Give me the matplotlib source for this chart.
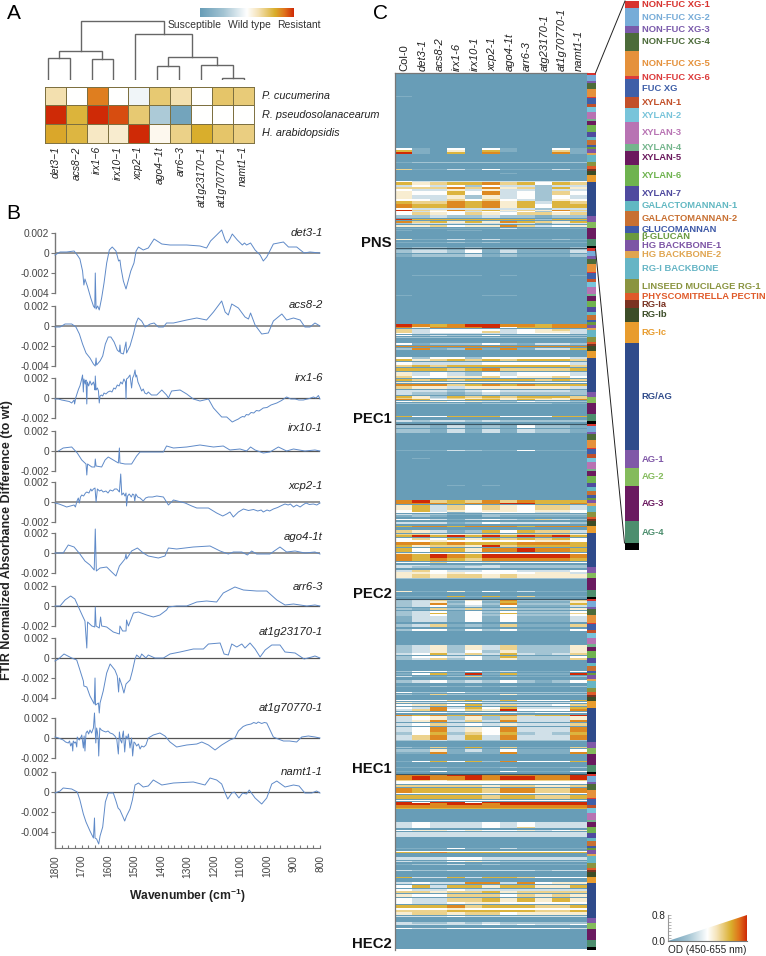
import numpy as np
import matplotlib
matplotlib.use("Agg")
import matplotlib.pyplot as plt
from matplotlib.colors import LinearSegmentedColormap
from matplotlib.patches import Polygon

plt.rcParams['font.family'] = ['Liberation Sans', 'DejaVu Sans']
plt.rcParams['mathtext.fontset'] = 'custom'
plt.rcParams['mathtext.bf'] = 'Liberation Sans:bold'
plt.rcParams['mathtext.rm'] = 'Liberation Sans'

# ---------------- Panel A data ----------------
A_GENOTYPES = ['det3−1', 'acs8−2', 'irx1−6', 'irx10−1', 'xcp2−1', 'ago4−1t', 'arr6−3', 'at1g23170−1', 'at1g70770−1', 'namt1−1']
A_PATHOGENS = ['P. cucumerina', 'R. pseudosolanacearum', 'H. arabidopsidis']
A_P_CUC = [0.26, 0.0, 0.76, 0.0, -0.08, 0.42, 0.26, 0.0, 0.44, 0.40]
A_R_PSE = [1.0, 0.56, 1.0, 0.90, 0.42, -0.45, -0.90, 0.0, 0.0, 0.0]
A_H_ARA = [0.62, 0.54, 0.20, 0.16, 1.0, 0.06, 0.36, 0.60, 0.44, 0.38]
# dendrogram merges: (left, right, height); ids >= 10 refer to earlier merges
A_MERGES = [(0, 1, 22), (2, 3, 21), (10, 11, 29), (5, 6, 14), (8, 9, 2), (7, 14, 15),
            (13, 15, 23), (4, 16, 46), (12, 17, 59)]

# ---------------- Panel B data (absorbance x 1e-3) ----------------
B_NAMES = ['det3-1', 'acs8-2', 'irx1-6', 'irx10-1', 'xcp2-1', 'ago4-1t', 'arr6-3', 'at1g23170-1', 'at1g70770-1', 'namt1-1']
det3_wn = [1800,1781,1756,1728,1716,1706,1696,1691,1687,1678,1665,1655,1650,1648,1645,1639,1633,1624,1615,1605,1595,1584,1570,1560,1555,1551,1542,1532,1526,1514,1502,1494,1485,1467,1448,1426,1397,1366,1303,1253,1228,1213,1190,1171,1158,1150,1140,1131,1112,1093,1085,1077,1062,1045,1026,1014,1001,976,938,919,888,860,838,800]
det3_ab = [-.2,.1,.1,.2,-.2,-.6,-1.8,-3.2,-2.6,-3.3,-4.5,-5.3,-5.5,-2.0,-5.6,-5.3,-5.7,-4.5,-3.0,-1.0,.3,.6,.2,-.8,-.7,-1.5,-2.8,-3.6,-3.0,-1.8,-1.0,.2,.6,.3,.5,1.4,.9,.8,.8,.7,.5,1.2,1.8,2.3,1.3,1.0,1.4,1.9,1.3,.8,1.0,.8,1.0,.3,-.2,-.8,-.4,.9,1.1,.6,.6,.0,.1,.0]
acs8_wn = [1800,1781,1762,1737,1721,1708,1696,1683,1668,1655,1648,1645,1643,1630,1620,1610,1599,1589,1577,1565,1557,1555,1552,1542,1532,1530,1517,1504,1494,1486,1473,1460,1441,1426,1410,1391,1379,1353,1303,1265,1228,1202,1171,1158,1146,1133,1108,1083,1070,1062,1045,1020,995,976,944,926,900,875,857,838,819,800]
acs8_ab = [-.1,-.1,.2,.2,-.1,-.8,-1.8,-2.7,-3.2,-3.8,-4.0,-3.2,-3.9,-3.5,-3.0,-1.8,-1.1,-1.1,-1.6,-2.4,-2.6,-1.9,-2.7,-2.8,-1.6,-2.7,-2.0,-.8,.3,.8,.5,-.1,.2,.3,-.1,-.1,.3,.3,.6,.8,.6,1.4,2.5,1.4,1.1,2.2,1.8,.9,.7,1.3,.1,-.8,-.7,.5,1.2,.6,.8,.6,-.1,-.1,.3,.0]
irx1_wn = [1800,1787,1775,1765,1756,1746,1737,1731,1728,1726,1722,1716,1711,1706,1701,1696,1693,1691,1686,1683,1680,1678,1673,1668,1662,1655,1651,1649,1648,1645,1640,1636,1633,1630,1625,1620,1615,1608,1600,1592,1585,1578,1572,1565,1558,1552,1546,1540,1534,1532,1530,1525,1517,1511,1507,1502,1498,1495,1492,1487,1479,1473,1467,1461,1454,1448,1436,1416,1397,1379,1372,1360,1328,1303,1278,1253,1221,1202,1171,1152,1131,1120,1108,1100,1092,1085,1078,1070,1060,1050,1040,1030,1014,1000,985,963,945,926,910,894,880,863,840,825,815,806,800]
irx1_ab = [-.1,-.1,-.2,-.25,-.3,-.35,-.5,-.3,-.2,-.6,.0,.5,.9,1.2,1.7,2.3,.6,1.9,1.4,1.8,-.6,1.6,1.2,1.7,1.3,1.6,1.2,.8,2.2,.8,1.0,.7,-.5,.2,.3,.2,.5,.4,.6,.7,.6,1.0,.9,1.3,1.2,1.6,1.4,1.9,1.6,-.1,1.9,2.0,2.3,1.0,2.0,2.3,2.8,2.1,2.3,1.6,1.1,.7,.9,.5,.4,.6,.3,.3,.8,.3,.0,.7,.8,.4,-.1,-.3,-.1,-1.0,-1.9,-1.9,-2.4,-2.25,-2.1,-1.95,-1.85,-1.9,-1.65,-1.7,-1.45,-1.5,-1.25,-1.3,-1.0,-.95,-.7,-.5,-.25,.1,-.1,-.1,-.2,-.2,-.05,.1,.0,.25,-.1]
irx10_wn = [1787,1769,1737,1716,1699,1683,1680,1677,1661,1650,1648,1645,1624,1611,1599,1580,1561,1557,1555,1536,1511,1492,1479,1454,1416,1391,1379,1353,1303,1253,1202,1165,1140,1102,1077,1062,1045,1014,989,957,926,900,857,819,800]
irx10_ab = [0,.3,.4,-.2,-.9,-1.3,-2.4,-1.3,-1.6,-1.6,-.8,-1.5,-1.6,-.9,-.6,-.9,-1.2,.3,-1.2,-1.3,-1.3,-.5,-.1,-.1,-.1,-.1,.5,.3,.4,.6,.4,.5,.1,.2,.0,.4,.1,-.2,-.1,.4,.0,.2,.0,.1,.0]
xcp2_wn = [1800,1785,1775,1765,1756,1742,1728,1723,1717,1712,1708,1704,1699,1692,1685,1680,1672,1665,1661,1655,1649,1645,1640,1632,1625,1618,1608,1600,1592,1582,1575,1567,1560,1557,1552,1548,1542,1536,1532,1530,1526,1520,1512,1507,1502,1499,1495,1488,1479,1467,1458,1448,1432,1416,1391,1372,1353,1309,1284,1265,1221,1190,1167,1152,1140,1127,1108,1089,1070,1051,1035,1022,1014,1000,990,976,960,945,932,920,912,900,888,875,865,853,840,825,812,800]
xcp2_ab = [-.1,-.2,-.3,-.4,-.5,-.4,-.3,-.5,.1,.4,-.1,.5,.7,.6,.9,1.0,.9,1.3,1.1,1.3,1.4,.0,1.3,1.1,1.2,1.0,1.1,.9,1.2,1.1,1.3,1.3,1.1,1.0,2.8,.7,.9,.6,.9,-.4,.6,.8,.5,.8,.7,.1,.8,.5,.4,.1,.4,.5,.5,.6,.5,-.3,.2,-.1,-.4,-.6,-.6,-1.1,-1.4,-1.2,-1.0,-1.5,-1.0,-.7,-.85,-.75,-.9,-.8,-1.0,-.8,-.9,-.7,-.55,-.35,-.2,-.3,-.2,-.5,-.3,-.5,-.3,-.1,-.25,-.2,-.3,-.1]
ago4_wn = [1800,1769,1750,1728,1706,1687,1668,1652,1648,1644,1630,1605,1586,1570,1557,1536,1532,1530,1511,1489,1467,1448,1429,1410,1385,1372,1341,1278,1215,1177,1146,1127,1095,1074,1058,1039,1007,989,951,926,894,857,819,800]
ago4_ab = [0,0,.8,.6,-.1,-.8,-1.2,-1.7,2.4,-1.8,-1.5,-1.4,-1.9,-2.3,-1.3,-.6,-.1,-.6,.2,.5,.0,-.3,-.4,-.5,-.3,.5,.4,.6,.7,.2,-.1,.1,.1,-.2,.2,-.1,-.1,-.1,.6,.1,.2,.0,.1,-.1]
arr6_wn = [1800,1781,1762,1741,1725,1708,1696,1687,1680,1677,1661,1650,1648,1645,1633,1628,1624,1605,1580,1557,1555,1545,1532,1530,1523,1504,1485,1454,1429,1404,1379,1372,1341,1303,1265,1228,1190,1165,1121,1089,1039,1001,963,932,900,850,819,800]
arr6_ab = [0,0,.6,1.0,.7,-.3,-1.0,-1.5,-4.2,-1.6,-2.0,-2.1,-.1,-2.0,-2.2,-1.1,-2.0,-2.1,-2.6,-2.8,-2.0,-2.5,-2.5,-1.4,-2.0,-.7,-.6,-.9,-1.1,-.9,-.4,-.1,.0,0,.4,.5,.4,1.3,1.9,1.6,1.5,1.5,.6,.1,.2,.0,.1,0]
at123_wn = [1800,1787,1766,1737,1718,1706,1693,1691,1680,1668,1652,1649,1647,1636,1633,1630,1618,1605,1592,1574,1565,1560,1557,1548,1540,1532,1517,1508,1498,1492,1479,1473,1457,1448,1423,1391,1366,1328,1278,1240,1221,1177,1162,1146,1133,1114,1095,1083,1064,1045,1026,1007,982,951,932,894,860,831,819,800]
at123_ab = [-.3,-.1,.4,0,-.2,-1.2,-2.3,-2.8,-2.9,-3.8,-4.6,-2.0,-4.7,-4.5,-5.5,-4.5,-3.3,-1.5,-.6,-1.2,-1.8,-3.4,-2.0,-2.7,-3.5,-2.6,-2.2,-1.3,-.1,.3,.0,.4,.0,.3,.0,.0,.4,.6,.9,.9,1.4,1.5,.4,.3,1.4,1.1,1.4,1.0,1.5,.9,.1,.8,1.3,1.3,.6,.5,-.1,.1,.2,0]
at170_wn = [1800,1793,1787,1778,1769,1760,1750,1745,1741,1736,1733,1731,1726,1722,1718,1716,1712,1708,1702,1699,1693,1690,1687,1683,1678,1673,1668,1662,1655,1651,1648,1646,1643,1640,1637,1635,1631,1625,1618,1608,1600,1592,1582,1574,1567,1561,1557,1553,1548,1545,1542,1537,1532,1527,1523,1517,1511,1507,1502,1498,1492,1485,1479,1473,1465,1457,1448,1429,1404,1385,1366,1341,1303,1265,1246,1221,1196,1171,1140,1121,1108,1090,1077,1060,1050,1040,1033,1020,1010,1001,985,976,958,938,915,888,869,844,819,800]
at170_ab = [.1,.05,0,-.1,-.2,-.4,-.5,-.3,-.8,-.5,-1.3,-.3,-.5,-.4,-.9,.1,-.1,-.2,.1,.3,-1.0,.2,-1.3,.5,.7,.4,.8,.5,1.0,2.5,.7,-.5,1.0,.6,-.2,-1.8,1.0,.8,.7,.6,.7,.5,.4,.2,-.1,-1.6,.6,-.2,-.5,.3,.7,-1.4,.2,-.1,.4,-1.0,.0,-1.8,-.4,-.5,-.8,-.6,-1.1,-.8,-.9,-.7,.0,.3,.5,.2,-.4,-.9,-.7,-.6,-.4,-.7,-1.2,-.7,-.2,.0,.7,1.15,1.3,1.4,1.55,1.45,1.6,1.45,1.55,1.5,.6,.1,-.1,-.3,-.3,-.4,.1,.2,.1,0]
namt_wn = [1800,1781,1769,1737,1716,1706,1693,1683,1668,1655,1651,1649,1643,1635,1630,1620,1610,1599,1580,1570,1562,1555,1545,1537,1530,1517,1508,1498,1485,1467,1448,1429,1397,1353,1278,1234,1215,1190,1171,1158,1148,1133,1123,1106,1092,1077,1067,1045,1020,1001,982,963,932,900,879,857,831,813,800]
namt_ab = [-.1,.1,.4,.3,.0,-.8,-2.2,-3.0,-3.9,-4.6,-2.6,-4.6,-4.7,-5.2,-4.4,-3.5,-1.0,-.1,-.1,-.9,-1.6,-1.8,-2.4,-2.9,-2.4,-1.7,-.8,.7,.9,.5,.6,1.2,.7,.9,1.0,.7,1.4,1.2,.8,-.1,-.7,-.1,.0,-.6,-.1,-.2,.2,-.6,-1.2,-.6,.8,1.1,.5,.7,.6,-.1,-.1,.1,-.1]
B_WN = [det3_wn, acs8_wn, irx1_wn, irx10_wn, xcp2_wn, ago4_wn, arr6_wn, at123_wn, at170_wn, namt_wn]
B_AB = [det3_ab, acs8_ab, irx1_ab, irx10_ab, xcp2_ab, ago4_ab, arr6_ab, at123_ab, at170_ab, namt_ab]
B_YMIN = [-4, -4, -2, -2, -2, -2, -2, -4, -2, -5.6]
B_TICKS = [[2,0,-2,-4],[2,0,-2,-4],[2,0,-2],[2,0,-2],[2,0,-2],[2,0,-2],[2,0,-2],[2,0,-2,-4],[2,0,-2],[2,0,-2,-4]]
B_TOP_PX = [233, 306, 378, 431, 482, 533, 586, 638, 718, 772]
B_LABEL_PX = [233, 305, 378, 428, 486, 537, 587, 632, 708, 772]
B_WAVENUMBERS = [1800, 1700, 1600, 1500, 1400, 1300, 1200, 1100, 1000, 900, 800]

# ---------------- Panel C data ----------------
C_COLUMNS = ['Col-0', 'det3-1', 'acs8-2', 'irx1-6', 'irx10-1', 'xcp2-1', 'ago4-1t', 'arr6-3', 'atg23170-1', 'at1g70770-1', 'namt1-1']
C_SECTIONS = ['PNS', 'PEC1', 'PEC2', 'HEC1', 'HEC2']
LEVEL_OD = [0.0, 0.09, 0.2, 0.3, 0.4, 0.46, 0.54, 0.62, 0.69, 0.8]
# each band: first row, number of rows, colour level for the 11 columns
PNS = [
 (24,1,"1 0 0 0 0 0 0 0 0 0 0"),
 (76,2,"4 1 0 4 0 4 1 0 0 4 1"),(78,2,"7 1 0 5 0 7 1 0 0 6 1"),(80,2,"9 1 0 7 0 8 0 0 0 8 1"),
 (90,1,"1 2 2 2 2 2 2 2 2 2 2"),(97,1,"6 1 1 3 1 4 1 1 1 3 1"),(101,1,"0 0 0 0 0 0 1 0 0 0 0"),
 (109,1,"4 3 3 3 3 3 3 3 3 3 4"),(110,3,"7 5 6 7 7 8 6 7 4 7 6"),(113,2,"3 4 3 4 2 4 3 3 2 3 3"),
 (115,2,"6 6 6 8 6 8 5 6 2 7 5"),(117,2,"4 3 3 5 3 5 3 3 2 3 3"),(119,4,"5 4 4 7 4 8 3 4 2 6 4"),
 (123,4,"5 3 3 5 2 5 3 4 2 4 3"),(127,2,"4 4 3 6 4 6 4 3 2 5 4"),(129,3,"7 6 6 8 7 8 5 7 3 7 6"),
 (132,4,"8 7 7 8 7 8 5 7 4 7 7"),(136,2,"4 3 3 3 3 3 3 3 2 3 3"),(138,1,"9 6 5 8 6 7 5 6 5 8 6"),
 (139,1,"4 3 4 4 3 4 3 4 2 4 3"),(140,3,"4 6 5 4 6 5 4 6 6 5 6"),(143,3,"2 2 3 2 2 3 2 2 1 2 2"),
 (147,1,"9 7 7 7 7 7 7 7 2 7 7"),(149,2,"8 6 7 5 7 5 8 7 6 5 7"),(151,1,"2 3 3 3 3 3 3 3 1 3 3"),
 (153,2,"5 5 6 4 5 5 8 6 3 4 5"),(156,1,"1 1 1 1 1 1 3 1 1 1 1"),(158,1,"1 0 0 1 1 0 0 0 0 0 0"),
 (167,1,"5 1 1 3 1 3 1 1 1 2 1"),(170,1,"1 1 1 2 1 2 1 1 1 1 1"),
]
PEC1 = [
 (0,2,"1 2 2 1 2 1 1 1 1 1 2"),(2,1,"1 2 2 1 3 1 2 1 1 1 2"),(3,3,"2 3 3 2 4 1 3 1 1 1 3"),
 (7,3,"1 2 2 2 3 1 2 1 1 1 2"),(28,1,"0 1 1 1 1 0 1 0 0 0 1"),(47,1,"1 0 0 0 0 1 1 0 0 0 0"),
 (76,3,"9 8 7 8 9 9 8 8 7 8 8"),(79,1,"8 5 8 8 8 9 4 7 7 8 8"),(81,2,"6 3 4 4 4 4 3 4 5 6 3"),
 (83,2,"6 3 4 4 4 6 3 4 5 5 3"),(85,1,"4 3 3 3 3 3 3 4 4 4 3"),(87,1,"4 2 3 2 2 4 2 2 2 2 2"),(89,1,"2 2 2 2 2 2 2 2 2 2 2"),
 (95,2,"4 1 2 2 2 4 2 1 3 3 2"),(98,1,"8 8 8 8 8 8 8 8 8 8 8"),(100,2,"2 8 1 2 8 1 8 1 3 3 7"),
 (109,2,"4 2 4 4 2 4 4 4 4 4 3"),(111,2,"7 5 6 7 6 7 6 7 7 7 6"),(114,3,"4 3 3 3 3 4 4 4 4 4 3"),
 (117,2,"6 7 6 7 7 7 7 7 7 7 6"),(120,3,"7 7 7 6 7 8 6 6 6 6 7"),(124,4,"5 3 4 3 2 4 3 4 4 4 3"),
 (128,2,"6 4 4 5 5 6 4 5 5 6 4"),(131,2,"7 6 7 6 7 7 7 7 6 7 6"),(134,1,"5 4 4 4 4 4 4 4 4 4 4"),
 (136,2,"8 8 8 6 7 8 7 8 7 7 7"),(138,3,"6 5 5 3 5 5 5 5 5 5 3"),(142,2,"3 3 3 2 3 4 3 3 3 3 2"),
 (144,3,"3 2 2 1 2 3 2 2 2 2 2"),(148,2,"7 5 2 7 6 7 6 7 7 7 6"),(150,1,"6 5 3 6 5 6 5 6 6 5 6"),
 (151,1,"8 7 4 5 7 7 5 7 5 5 8"),(153,1,"4 5 5 4 5 3 2 4 3 3 2"),(155,1,"2 2 2 2 1 2 2 2 2 1 1"),
 (168,1,"7 4 4 7 7 7 4 4 4 7 7"),(172,2,"3 2 3 3 2 3 2 2 2 2 2"),
]
PEC2 = [
 (1,4,"2 2 1 3 1 2 1 4 2 2 1"),(6,4,"2 2 1 3 1 3 1 3 2 2 1"),(27,1,"1 1 1 3 2 1 1 4 1 1 1"),
 (35,1,"0 1 0 0 0 0 0 0 0 0 0"),(62,1,"0 0 0 1 0 1 0 0 0 0 0"),
 (77,3,"8 9 6 7 6 8 6 8 7 7 7"),(80,1,"8 8 8 7 8 8 9 9 7 7 8"),(82,5,"5 7 3 6 4 6 5 4 6 6 3"),
 (87,2,"4 7 3 5 4 5 5 4 5 5 4"),(89,1,"4 4 4 1 3 4 4 4 3 3 4"),(91,1,"3 2 2 1 1 2 2 2 2 2 2"),
 (92,2,"1 2 1 0 0 2 1 1 1 1 1"),(96,1,"4 4 3 1 3 4 3 2 6 3 2"),(99,2,"3 3 3 1 2 4 3 3 3 3 2"),
 (103,1,"7 8 8 7 8 8 8 7 8 8 8"),(107,3,"6 5 3 1 2 7 4 7 6 6 3"),(111,1,"6 6 5 5 5 6 5 6 6 6 5"),
 (112,2,"7 9 7 9 7 9 7 9 8 9 7"),(115,2,"4 6 4 7 5 7 6 7 6 7 4"),(117,2,"4 4 5 4 4 4 4 4 5 5 4"),
 (119,3,"8 8 7 8 7 7 7 8 8 8 7"),(122,2,"7 5 6 6 5 9 6 7 7 7 7"),(125,4,"7 4 7 7 5 8 8 9 8 8 7"),
 (130,1,"5 4 4 4 4 4 4 4 4 4 4"),(131,4,"8 7 9 8 7 9 9 9 9 9 8"),(135,3,"8 7 8 7 6 8 8 8 8 8 7"),
 (139,1,"4 4 6 4 4 5 4 4 4 4 4"),(142,1,"3 3 2 2 2 3 2 2 2 2 2"),(143,2,"3 2 2 2 3 3 2 2 2 2 2"),
 (147,2,"3 6 4 3 3 4 4 3 3 3 4"),(149,2,"5 5 4 5 4 4 4 4 5 5 3"),(151,4,"5 6 5 6 6 5 6 5 5 5 5"),
 (155,1,"2 2 2 2 2 2 2 2 2 2 2"),(168,1,"5 1 1 5 1 4 1 3 1 1 1"),(173,1,"1 1 1 7 1 7 1 6 1 1 1"),
]
HEC1 = [
 (1,2,"2 3 6 2 5 2 8 2 2 2 6"),(3,2,"2 3 5 1 4 1 7 1 1 1 5"),(5,2,"2 3 8 2 4 2 8 2 2 2 7"),
 (7,2,"2 3 4 1 3 1 4 1 1 1 3"),(10,2,"2 1 6 2 6 2 6 2 2 2 5"),(13,2,"2 3 4 1 4 2 4 2 2 2 4"),
 (15,1,"2 3 7 1 4 1 7 1 1 1 6"),(16,2,"2 3 4 1 4 2 4 2 2 2 4"),(18,6,"1 3 3 1 4 1 4 1 1 1 3"),
 (26,3,"2 3 6 1 2 1 6 1 1 1 6"),(31,2,"2 4 4 1 4 2 4 1 1 1 4"),
 (47,5,"2 3 5 2 5 3 6 2 2 2 5"),(52,3,"2 3 5 2 4 2 5 2 2 2 5"),(55,2,"3 4 7 3 6 3 7 3 2 3 6"),
 (58,2,"2 4 4 3 4 2 7 2 2 2 4"),(60,2,"2 3 6 2 4 2 5 2 2 2 6"),
 (73,1,"2 4 4 2 4 2 3 1 1 1 4"),(75,2,"1 4 7 1 9 1 7 1 1 1 9"),(78,1,"3 1 1 2 6 1 2 1 1 1 2"),
 (82,3,"2 3 4 2 3 2 4 2 1 2 4"),(88,1,"1 1 2 1 2 1 2 1 1 1 2"),(94,1,"4 2 2 4 2 2 2 2 2 2 2"),
 (96,1,"2 1 6 2 2 2 5 2 2 2 2"),(102,1,"4 4 4 6 7 3 7 4 4 4 7"),(104,1,"5 3 3 4 4 3 3 3 3 3 4"),
 (106,2,"4 5 6 4 7 3 6 3 3 4 6"),(109,2,"4 3 8 3 7 4 7 3 3 3 7"),(111,2,"3 6 8 4 6 5 9 4 4 4 8"),
 (114,1,"4 4 4 3 4 4 4 3 4 4 4"),(117,1,"8 7 8 7 8 7 8 6 7 7 9"),(118,4,"3 4 5 2 5 2 6 3 3 3 5"),
 (122,2,"3 5 8 3 6 3 8 3 3 3 8"),(125,3,"3 4 6 3 4 3 5 3 3 3 6"),(129,4,"3 4 8 3 5 4 8 3 3 3 8"),
 (133,3,"2 4 7 2 6 4 7 2 3 2 7"),(136,5,"3 6 8 3 7 3 8 3 3 3 8"),(141,1,"2 2 3 2 2 2 2 2 2 2 2"),
 (148,1,"2 1 6 1 7 1 6 1 1 1 6"),(150,3,"2 2 5 1 3 1 4 1 1 1 4"),(153,2,"1 1 8 1 1 1 8 1 1 1 8"),
 (162,1,"1 4 7 4 7 2 8 4 4 4 7"),(168,1,"1 1 2 1 1 1 2 1 1 1 2"),(172,1,"1 1 4 1 1 1 4 1 1 1 4"),
]
HEC2 = [
 (0,2,"8 8 8 9 9 8 8 8 8 8 9"),(2,4,"8 9 8 8 9 8 9 9 8 8 9"),(6,1,"6 6 5 6 6 6 6 6 6 6 6"),
 (7,3,"4 4 4 4 4 4 4 4 4 4 4"),(11,2,"6 6 6 6 6 5 6 6 5 5 6"),(14,5,"8 7 7 7 7 6 8 8 6 6 8"),
 (19,1,"4 4 4 4 4 4 4 4 4 4 4"),(21,4,"7 7 7 7 7 6 7 7 6 6 7"),(26,1,"4 4 4 4 4 4 4 4 4 4 4"),
 (28,1,"9 4 9 9 4 9 9 9 9 9 9"),(29,2,"9 9 8 9 9 8 9 9 9 9 9"),(31,3,"8 8 8 8 8 8 8 8 8 8 8"),
 (34,1,"7 7 7 7 7 7 7 7 7 7 7"),
 (48,5,"3 4 3 3 3 4 3 4 3 3 3"),(53,1,"3 4 3 3 3 4 3 6 3 3 3"),(56,1,"4 5 5 4 5 4 4 5 3 4 5"),
 (58,5,"3 3 3 3 3 3 3 3 3 3 3"),(74,1,"1 1 1 4 1 1 3 1 1 1 1"),(77,1,"4 4 4 4 4 4 4 4 4 4 4"),
 (78,1,"7 7 8 7 7 7 7 7 7 7 7"),(83,3,"3 3 3 4 4 3 3 3 3 3 3"),(87,1,"3 2 2 4 5 3 2 2 2 2 2"),
 (90,1,"1 2 2 3 1 2 1 1 1 1 1"),(96,1,"3 2 2 3 3 3 3 3 2 3 3"),(103,1,"7 3 3 7 3 7 7 6 4 4 4"),
 (108,2,"3 4 3 3 8 8 3 8 4 5 5"),(111,3,"4 7 3 7 7 5 7 7 5 5 7"),(115,2,"4 3 3 4 3 3 3 3 3 3 3"),
 (117,2,"6 6 5 6 6 7 5 6 6 6 6"),(120,3,"5 4 4 6 6 6 4 6 5 6 5"),(124,4,"4 3 3 6 6 7 5 7 5 7 5"),
 (128,2,"4 3 3 4 5 5 4 4 4 4 4"),(131,3,"7 7 7 8 6 7 7 7 6 6 7"),(134,2,"4 4 4 5 4 4 4 4 4 4 4"),
 (136,2,"6 6 6 7 7 7 7 7 6 6 7"),(138,3,"5 6 6 5 6 6 4 5 5 5 5"),(142,1,"3 3 3 4 3 3 3 3 3 3 3"),
 (148,2,"3 2 2 3 2 3 2 2 2 2 2"),(150,1,"3 3 3 3 3 4 3 4 3 3 4"),(154,1,"4 3 3 4 4 4 4 4 4 4 3"),
]
C_BANDS = [PNS, PEC1, PEC2, HEC1, HEC2]
GROUP_NAMES = ['NON-FUC XG-1','NON-FUC XG-2','NON-FUC XG-3','NON-FUC XG-4','NON-FUC XG-5','NON-FUC XG-6','FUC XG',
    'XYLAN-1','XYLAN-2','XYLAN-3','XYLAN-4','XYLAN-5','XYLAN-6','XYLAN-7','GALACTOMANNAN-1','GALACTOMANNAN-2',
    'GLUCOMANNAN','β-GLUCAN','HG BACKBONE-1','HG BACKBONE-2','RG-I BACKBONE','LINSEED MUCILAGE RG-1','PHYSCOMITRELLA PECTIN',
    'RG-Ia','RG-Ib','RG-Ic','RG/AG','AG-1','AG-2','AG-3','AG-4','']
GROUP_COUNTS = [2,5,2,5,7,1,5,3,4,6,2,4,6,4,3,4,2,2,3,2,6,4,2,2,4,6,30,5,5,10,6,2]
GROUP_COLORS = ['#d8332f','#77acd8','#7a5aab','#4c6b3a','#e5913b','#dc3a3a','#3f5fa8','#c2502a','#78c4da','#b873b3',
    '#74b58c','#6b1a5e','#6fb34f','#4f4a9f','#62b8c2','#c87032','#3f5aa8','#6a9a3f','#7d55a5','#e0a550','#66b5c5',
    '#8a9440','#e05a2a','#7a3322','#3c4d28','#e89c2e','#2f4b8b','#8058a8','#84bb5c','#6a1a60','#4d8e6e','#000000']

# ---------------- Layout ----------------
W, H = 766, 956
fig = plt.figure(figsize=(W / 100, H / 100), dpi=100)
cmap = LinearSegmentedColormap.from_list('od', [(0, '#689db7'), (0.25, '#a3c4d3'), (0.5, '#ffffff'), (0.62, '#f5e3b8'),
                                               (0.8, '#d9ae2c'), (0.9, '#e0741c'), (1, '#cf2a06')])

def px_axes(l, t, r, b, **kw):
    return fig.add_axes([l / W, 1 - b / H, (r - l) / W, (b - t) / H], **kw)

ov = px_axes(0, 0, W, H)
ov.set_xlim(0, W); ov.set_ylim(H, 0); ov.axis('off'); ov.set_zorder(10); ov.patch.set_alpha(0)

for s, x, y in [('A', 7, 13), ('B', 6, 213), ('C', 373, 13)]:
    ov.text(x, y, s, fontsize=15, ha='left', va='center')

# Panel A heatmap
axA = px_axes(45, 87, 253.5, 142.5)
axA.pcolormesh(np.array([A_P_CUC, A_R_PSE, A_H_ARA]), cmap=cmap, vmin=-1, vmax=1, edgecolors='#7d7040', linewidth=0.6)
axA.set_ylim(3, 0); axA.set_xticks([]); axA.set_yticks([])
for sp in axA.spines.values():
    sp.set_color('#7d7040'); sp.set_linewidth(0.7)
for i, g in enumerate(A_GENOTYPES):
    ov.text(45 + 20.85 * (i + .5), 146, g, rotation=90, ha='center', va='top', fontsize=7.4, style='italic', color='#222')
for i, p in enumerate(A_PATHOGENS):
    ov.text(262, 96 + 18.5 * i, p, ha='left', va='center', fontsize=7.8, style='italic', color='#222', zorder=20)

# dendrogram
axD = px_axes(37, 20, 255, 80)
axD.set_xlim(0, 10); axD.set_ylim(0, 60); axD.axis('off')
node_x = [i + .5 for i in range(10)]
node_h = [0.0] * 10
for a, b, h in A_MERGES:
    axD.plot([node_x[a], node_x[a], node_x[b], node_x[b]], [node_h[a], h, h, node_h[b]], color='#666666', lw=1.0, solid_joinstyle='miter')
    node_x.append((node_x[a] + node_x[b]) / 2)
    node_h.append(h)

# Panel A colour bar
axCB = px_axes(200, 8, 294, 17.5)
axCB.imshow(np.linspace(0, 1, 256)[None, :], aspect='auto', cmap=cmap, vmin=0, vmax=1)
axCB.axis('off')
for s, x in [('Susceptible', 195), ('Wild type', 249), ('Resistant', 299)]:
    ov.text(x, 24.5, s, ha='center', va='center', fontsize=7.5, color='#333')

# Panel B spectra
PX_PER_UNIT = 10.0
for i, name in enumerate(B_NAMES):
    top = B_TOP_PX[i]
    bot = top + (2 - B_YMIN[i]) * PX_PER_UNIT
    ax = px_axes(55, top, 320, bot)
    ax.set_xlim(1800, 800); ax.set_ylim(B_YMIN[i], 2)
    ax.patch.set_alpha(0)
    ax.axhline(0, color='#808080' if i < 2 or i in (4, 5) else '#555555', lw=1.2 if i < 2 or i in (4, 5) else 0.9, zorder=2)
    ax.plot(B_WN[i], B_AB[i], color='#5f8ac8', lw=0.7, clip_on=False, zorder=3)
    for s in ['top', 'right', 'bottom']:
        ax.spines[s].set_visible(False)
    ax.spines['left'].set_color('#777777'); ax.spines['left'].set_linewidth(1.0)
    ax.set_yticks(B_TICKS[i])
    ax.set_yticklabels(['%.3f' % (t * 1e-3) if t else '0' for t in B_TICKS[i]], fontsize=7.3, color='#444444')
    ax.tick_params(axis='y', length=3, width=0.8, color='#777777', pad=1.5)
    if i == len(B_NAMES) - 1:
        ax.spines['bottom'].set_visible(True); ax.spines['bottom'].set_color('#777777')
        ax.set_xticks(B_WAVENUMBERS)
        ax.set_xticks(np.arange(800, 1801, 25), minor=True)
        ax.set_xticklabels(B_WAVENUMBERS, rotation=90, fontsize=7.3, color='#444444')
        ax.tick_params(axis='x', which='both', direction='in', length=2.5, width=0.8, color='#777777', pad=5)
    else:
        ax.set_xticks([])
    ov.text(323, B_LABEL_PX[i], name, ha='right', va='center', fontsize=8.2, style='italic', color='#222', zorder=20)
ov.text(187, 896, 'Wavenumber (cm$\\mathbf{^{-1}}$)', ha='center', va='center', fontsize=8.7, fontweight='bold', color='#222')
ov.text(7, 540, 'FTIR Normalized Absorbance Difference (to wt)', rotation=90, ha='center', va='center', fontsize=9.0, fontweight='bold', color='#222')

# Panel C heatmap
ROWS = 175
mat = np.zeros((ROWS * 5, len(C_COLUMNS)))
for k, bands in enumerate(C_BANDS):
    for first, n, lv in bands:
        mat[ROWS * k + first:ROWS * k + first + n, :] = [LEVEL_OD[int(c)] for c in lv.split()]
C_TOP, C_BOT = 73.0, 949.5
axC = px_axes(395, C_TOP, 587, C_BOT)
axC.imshow(mat, aspect='auto', cmap=cmap, vmin=0, vmax=0.8, interpolation='nearest', extent=(0, 11, ROWS * 5, 0))
axC.set_xticks([]); axC.set_yticks([])
for s in ['right', 'bottom']:
    axC.spines[s].set_visible(False)
for s in ['left', 'top']:
    axC.spines[s].set_color('#777777'); axC.spines[s].set_linewidth(0.9)
for k in range(1, 5):
    axC.axhline(ROWS * k, color='#3b5563', lw=0.8)
for j, c in enumerate(C_COLUMNS):
    ov.text(395 + 17.45 * (j + .5) + 1, 71, c, rotation=90, ha='center', va='bottom', fontsize=8.0,
            style='normal' if j == 0 else 'italic', color='#222')
sec_h = (C_BOT - C_TOP) / 5
for k, s in enumerate(C_SECTIONS):
    ov.text(392, C_TOP + sec_h * (k + 1) - 5, s, ha='right', va='center', fontsize=10.7, fontweight='bold', color='#111')

# Strips
counts = np.array(GROUP_COUNTS)
edges = np.concatenate([[0], np.cumsum(counts)])
axS = px_axes(587, C_TOP, 595.5, C_BOT)
axS.set_xlim(0, 1); axS.set_ylim(5 * edges[-1], 0); axS.axis('off')
for k in range(5):
    axS.barh(k * edges[-1] + edges[:-1], [1] * len(counts), height=counts, align='edge', color=GROUP_COLORS, linewidth=0)
axB = px_axes(625, 1, 638.5, 550)
axB.set_xlim(0, 1); axB.set_ylim(edges[-1], 0); axB.axis('off')
axB.barh(edges[:-1], [1] * len(counts), height=counts, align='edge', color=GROUP_COLORS, linewidth=0)
for nm, col, e, c in zip(GROUP_NAMES, GROUP_COLORS, edges[:-1], counts):
    y = 1 + (e + c / 2) * 549 / edges[-1]
    ov.text(641.5, y, nm, ha='left', va='center', fontsize=6.75, fontweight='bold', color=col)
ov.plot([595.5, 625], [73, 1], color='#222222', lw=0.7)
ov.plot([595.5, 624.5], [249, 543], color='#222222', lw=0.7)

# OD legend
axL = px_axes(668, 915, 747, 941)
im = axL.imshow(np.linspace(0, 1, 256)[None, :], aspect='auto', cmap=cmap, vmin=0, vmax=1, extent=(0, 1, 0, 0.8))
tri = Polygon([[0, 0], [1, 0], [1, 0.8]], transform=axL.transData, facecolor='none', edgecolor='none')
axL.add_patch(tri); im.set_clip_path(tri)
axL.set_xlim(0, 1); axL.set_ylim(0, 0.8)
axL.patch.set_alpha(0)
for s in ['top', 'right']:
    axL.spines[s].set_visible(False)
axL.spines['left'].set_color('#999999'); axL.spines['bottom'].set_color('#777777')
axL.set_xticks([]); axL.set_yticks([0, 0.8]); axL.set_yticklabels(['0.0', '0.8'], fontsize=7.2, color='#222')
axL.set_yticks(np.arange(0, 0.81, 0.1), minor=True)
axL.tick_params(axis='y', which='both', direction='in', length=2, width=0.5, color='#999999', pad=2)
ov.text(707, 950, 'OD (450-655 nm)', ha='center', va='center', fontsize=7.2, color='#222')

fig.savefig('out.png', dpi=100)
